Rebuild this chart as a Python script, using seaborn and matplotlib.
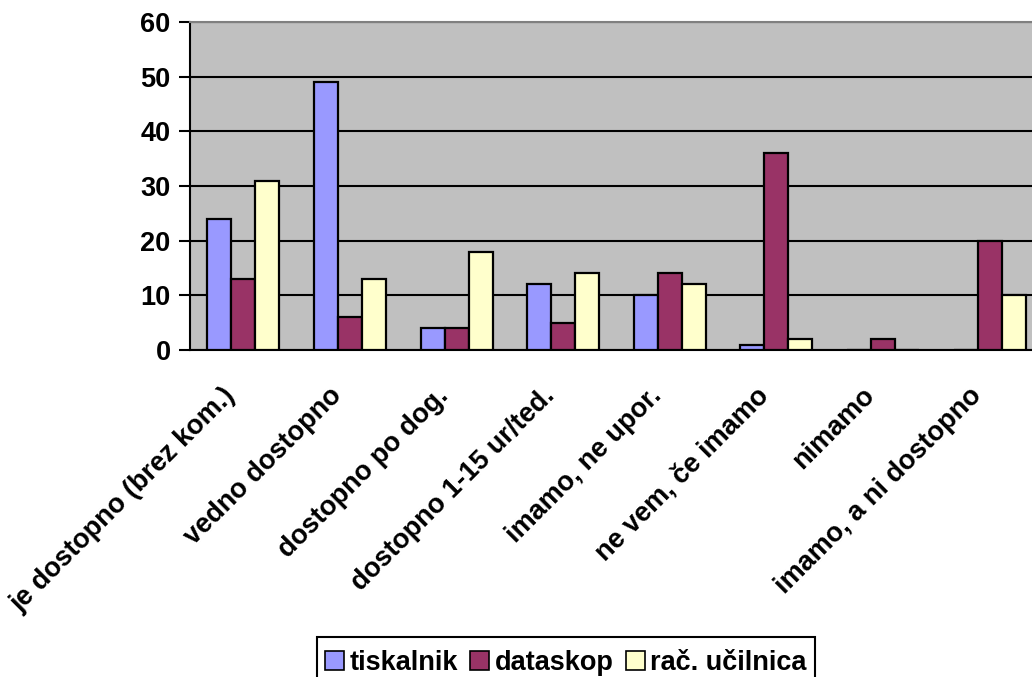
import matplotlib
matplotlib.use("Agg")
import matplotlib.pyplot as plt
import matplotlib.transforms as mtransforms
import seaborn as sns
import pandas as pd
import numpy as np

categories = [
    "je dostopno (brez kom.)",
    "vedno dostopno",
    "dostopno po dog.",
    "dostopno 1-15 ur/ted.",
    "imamo, ne upor.",
    "ne vem, če imamo",
    "nimamo",
    "imamo, a ni dostopno",
]
series = ["tiskalnik", "dataskop", "rač. učilnica"]
tiskalnik = [24, 49, 4, 12, 10, 1, 0, 0]
dataskop = [13, 6, 4, 5, 14, 36, 2, 20]
rac_ucilnica = [31, 13, 18, 14, 12, 2, 0, 10]
y_ticks = [0, 10, 20, 30, 40, 50, 60]

colors = ["#9999FF", "#993366", "#FFFFCC"]

df = pd.DataFrame({
    "kategorija": categories * 3,
    "serija": [s for s in series for _ in categories],
    "vrednost": tiskalnik + dataskop + rac_ucilnica,
})

sns.set_theme(style="white")
plt.rcParams["font.family"] = ["Liberation Sans", "DejaVu Sans"]
plt.rcParams["font.weight"] = "bold"
plt.rcParams["text.color"] = "black"
plt.rcParams["xtick.color"] = "black"
plt.rcParams["ytick.color"] = "black"

FS = 19.5

W, H = 1032, 677
fig = plt.figure(figsize=(W / 100, H / 100), dpi=100)
fig.patch.set_facecolor("white")

# plot area in pixel coordinates (extends past the right edge of the figure)
left, right, top, bottom = 190, 1043, 22, 350
ax = fig.add_axes([left / W, 1 - bottom / H, (right - left) / W, (bottom - top) / H])
ax.set_facecolor("#C0C0C0")

sns.barplot(
    data=df, x="kategorija", y="vrednost", hue="serija",
    order=categories, hue_order=series, palette=colors,
    width=0.675, gap=0, edgecolor="black", linewidth=1.6,
    saturation=1, errorbar=None, ax=ax, zorder=3,
)

ax.set_xlim(-0.5, len(categories) - 0.5)
ax.set_ylim(0, 60)
ax.set_yticks(y_ticks)
ax.set_yticklabels([str(v) for v in y_ticks], fontsize=FS, fontweight="bold", color="black")
ax.yaxis.grid(True, color="black", linewidth=1.5, zorder=1)
ax.set_axisbelow(True)

# category labels at centres, tick marks at boundaries
ax.set_xticks(range(len(categories)))
ax.set_xticklabels(categories, rotation=45, ha="right", va="center",
                   rotation_mode="anchor", fontsize=FS, fontweight="bold", color="black")
ax.tick_params(axis="x", which="major", length=0, pad=30)
shift = mtransforms.ScaledTranslation(-12 / 100, 0, fig.dpi_scale_trans)
for lbl in ax.get_xticklabels():
    lbl.set_transform(lbl.get_transform() + shift)
ax.set_xticks(np.arange(-0.5, len(categories), 1.0), minor=True)
ax.tick_params(axis="x", which="minor", length=8, width=1.5, color="black", direction="out")
ax.tick_params(axis="y", which="major", length=8, width=1.5, color="black",
               direction="out", left=True, pad=6)

ax.set_xlabel("")
ax.set_ylabel("")

for side in ["left", "bottom"]:
    ax.spines[side].set_color("black")
    ax.spines[side].set_linewidth(1.5)
for side in ["top", "right"]:
    ax.spines[side].set_color("#808080")
    ax.spines[side].set_linewidth(1.5)

# legend: entries centred under the chart, frame drawn around them
ax.get_legend().remove()
handles = [plt.Rectangle((0, 0), 1, 1, facecolor=c, edgecolor="black", linewidth=1.2)
           for c in colors]
leg = fig.legend(
    handles, series, loc="center", bbox_to_anchor=(566 / W, 1 - 663 / H),
    ncol=3, frameon=False, prop={"size": FS, "weight": "bold"},
    handlelength=0.7, handleheight=0.7, handletextpad=0.2,
    columnspacing=0.45, borderpad=0, borderaxespad=0,
)
for t in leg.get_texts():
    t.set_color("black")

fig.canvas.draw()
bb = leg.get_window_extent(fig.canvas.get_renderer())
pad_x = 8
box_top = H - 637
frame = plt.Rectangle(
    ((bb.x0 - pad_x) / W, -0.05), (bb.width + 2 * pad_x) / W, box_top / H + 0.05,
    transform=fig.transFigure, facecolor="none", edgecolor="black", linewidth=1.5,
)
fig.add_artist(frame)

fig.savefig("out.png", dpi=100)
